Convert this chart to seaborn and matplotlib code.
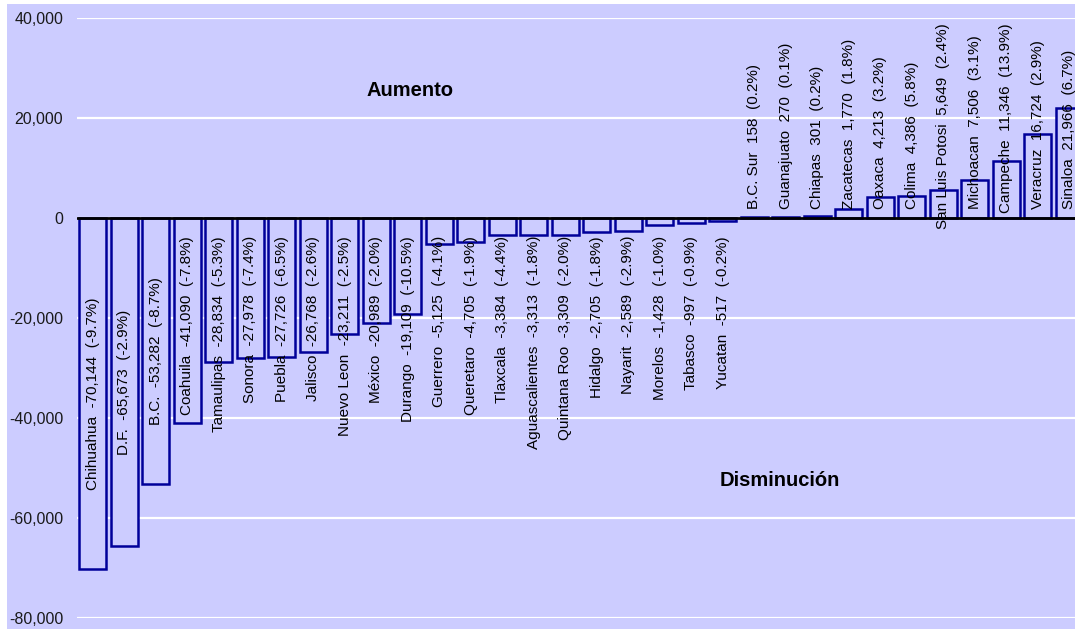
import matplotlib
matplotlib.use("Agg")
import matplotlib.pyplot as plt
import seaborn as sns
import pandas as pd
from matplotlib.patches import Rectangle
from matplotlib.ticker import FuncFormatter

states = ["Chihuahua", "D.F.", "B.C.", "Coahuila", "Tamaulipas", "Sonora", "Puebla",
          "Jalisco", "Nuevo Leon", "México", "Durango", "Guerrero", "Queretaro",
          "Tlaxcala", "Aguascalientes", "Quintana Roo", "Hidalgo", "Nayarit",
          "Morelos", "Tabasco", "Yucatan", "B.C. Sur", "Guanajuato", "Chiapas",
          "Zacatecas", "Oaxaca", "Colima", "San Luis Potosi", "Michoacan",
          "Campeche", "Veracruz", "Sinaloa"]
changes = [-70144, -65673, -53282, -41090, -28834, -27978, -27726, -26768, -23211,
           -20989, -19109, -5125, -4705, -3384, -3313, -3309, -2705, -2589, -1428,
           -997, -517, 158, 270, 301, 1770, 4213, 4386, 5649, 7506, 11346, 16724, 21966]
pcts = [-9.7, -2.9, -8.7, -7.8, -5.3, -7.4, -6.5, -2.6, -2.5, -2.0, -10.5, -4.1, -1.9,
        -4.4, -1.8, -2.0, -1.8, -2.9, -1.0, -0.9, -0.2, 0.2, 0.1, 0.2, 1.8, 3.2, 5.8,
        2.4, 3.1, 13.9, 2.9, 6.7]
y_ticks = [-80000, -60000, -40000, -20000, 0, 20000, 40000]

LAV = "#CCCCFF"
NAVY = "#000099"

sns.set_theme(style="white")
plt.rcParams["font.family"] = ["Liberation Sans", "DejaVu Sans"]

df = pd.DataFrame({"state": states, "change": changes, "pct": pcts})

fig = plt.figure(figsize=(10.75, 6.29), dpi=100)
fig.patch.set_facecolor("white")
fig.patches.append(Rectangle((7 / 1075, 0), 1, 1 - 4 / 629, transform=fig.transFigure,
                             facecolor=LAV, edgecolor="none", zorder=-10))
ax = fig.add_axes([77 / 1075, 1 - 618 / 629, 1 - 77 / 1075, (618 - 18) / 629])
ax.set_facecolor(LAV)

sns.barplot(data=df, x="state", y="change", order=states, color=LAV, saturation=1,
            edgecolor=NAVY, linewidth=1.8, width=0.86, ax=ax, zorder=3)

ax.set_ylim(-80000, 40000)
ax.set_xlim(-0.5, -0.5 + (1075 - 77) / 31.5)
ax.set_yticks(y_ticks)
ax.yaxis.set_major_formatter(FuncFormatter(lambda v, p: f"{int(v):,}"))
ax.set_xticks([])
ax.set_xlabel("")
ax.set_ylabel("")
ax.tick_params(axis="y", length=0, pad=10, labelsize=11.5, labelcolor="#1a1a1a")
for s in ax.spines.values():
    s.set_visible(False)
ax.grid(axis="y", color="white", linewidth=1.6, zorder=1)
ax.set_axisbelow(True)
ax.axhline(0, color="black", linewidth=2, zorder=5)

texts = []
for i, (st, v, p) in enumerate(zip(states, changes, pcts)):
    t = ax.text(i, v / 2, f"{st}  {v:,}  ({p:.1f}%)", rotation=90, ha="center",
                va="center", fontsize=11, color="black", zorder=6)
    texts.append((t, v))

fig.canvas.draw()
r = fig.canvas.get_renderer()
inv = ax.transData.inverted()
for t, v in texts:
    bb = t.get_window_extent(renderer=r)
    (_, y0), (_, y1) = inv.transform([(bb.x0, bb.y0), (bb.x1, bb.y1)])
    h = y1 - y0
    c = v / 2
    if v < 0:
        top_lim = -3600
        if c + h / 2 > top_lim:
            c = top_lim - h / 2
    else:
        bot_lim = 1800
        top_lim = 39000
        if c - h / 2 < bot_lim:
            c = bot_lim + h / 2
        if c + h / 2 > top_lim:
            c = top_lim - h / 2
    t.set_y(c)

ax.text(10.07, 25400, "Aumento", fontsize=14.5, fontweight="bold", ha="center",
        va="center", color="black")
ax.text(21.82, -52600, "Disminución", fontsize=14.5, fontweight="bold", ha="center",
        va="center", color="black")

fig.savefig("out.png", dpi=100, facecolor=fig.get_facecolor())
